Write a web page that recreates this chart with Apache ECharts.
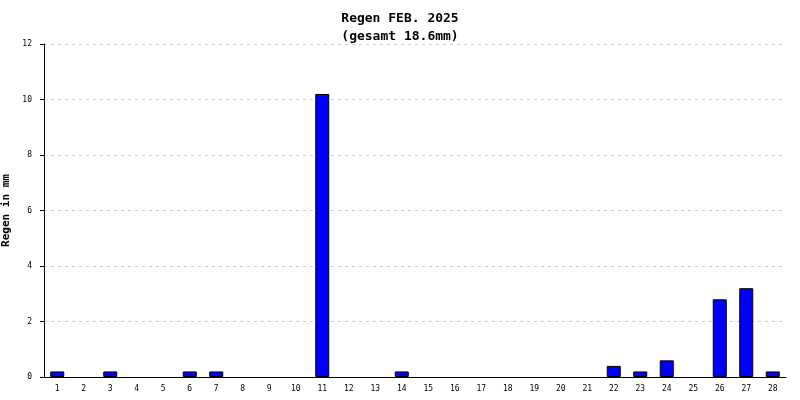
<!DOCTYPE html>
<html><head><meta charset="utf-8">
<script src="https://cdn.jsdelivr.net/npm/echarts@6/dist/echarts.min.js"></script>
<style>html,body{margin:0;background:#fff}#c{width:800px;height:400px}</style>
</head><body><div id="c"></div>
<script>
// daily rain, Feb 2025
const days = Array.from({ length: 28 }, (_, i) => String(i + 1));
const rain = [0.2,0,0.2,0,0,0.2,0.2,0,0,0,10.2,0,0,0.2,0,0,0,0,0,0,0,0.4,0.2,0.6,0,2.8,3.2,0.2];
const yTicks = { min: 0, max: 12, interval: 2 };

const font = 'DejaVu Sans Mono';
const chart = echarts.init(document.getElementById('c'), null, { renderer: 'canvas' });
chart.setOption({
  animation: false,
  backgroundColor: '#fff',
  title: {
    text: 'Regen FEB. 2025\n(gesamt 18.6mm)', left: 'center', top: 5,
    textStyle: { fontFamily: font, fontSize: 13, fontWeight: 'bold', color: '#000', lineHeight: 18 }
  },
  grid: { left: 44, right: 14, top: 44, bottom: 23, containLabel: false, outerBoundsMode: 'none' },
  xAxis: {
    type: 'category', data: days,
    axisLine: { lineStyle: { color: '#000', width: 1 } },
    axisTick: { lineStyle: { color: '#000' }, length: 6 },
    axisLabel: { fontFamily: font, fontSize: 8, color: '#000', margin: 8, interval: 0 }
  },
  yAxis: {
    type: 'value', ...yTicks,
    name: 'Regen in mm', nameLocation: 'middle', nameGap: 30,
    nameTextStyle: { fontFamily: font, fontSize: 11, fontWeight: 'bold', color: '#000' },
    axisLine: { show: true, lineStyle: { color: '#000' } },
    axisTick: { show: true, length: 4, lineStyle: { color: '#000' } },
    axisLabel: { fontFamily: font, fontSize: 8, color: '#000', margin: 12 },
    splitLine: { lineStyle: { color: '#ccc', type: [3, 4] } }
  },
  series: [{
    type: 'bar', data: rain.map(v => v || '-'), barWidth: 14,
    itemStyle: { color: '#0000ff', borderColor: '#000', borderWidth: 1 }
  }]
});
</script></body></html>
